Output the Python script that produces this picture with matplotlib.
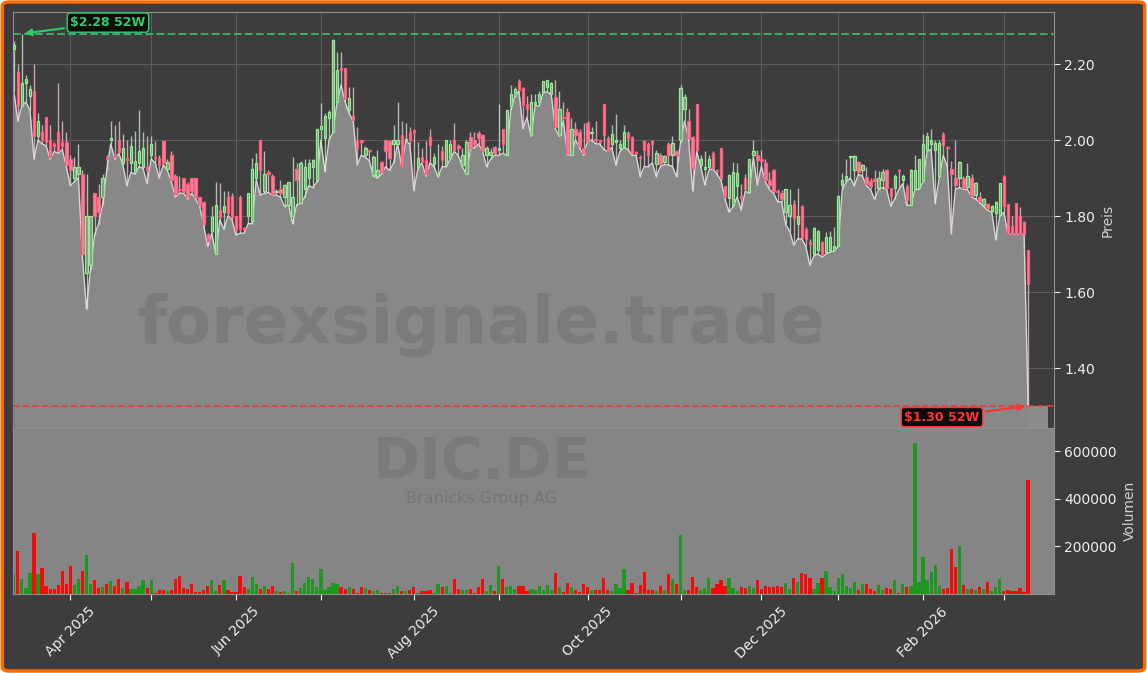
import numpy as np
import pandas as pd
import matplotlib
matplotlib.use('Agg')
import matplotlib.pyplot as plt
from matplotlib.patches import FancyBboxPatch

# trading days (Xetra holidays left out)
holidays = ['2025-04-18', '2025-04-21', '2025-05-01', '2025-12-24',
            '2025-12-25', '2025-12-26', '2025-12-31', '2026-01-01']
dates = pd.bdate_range('2025-03-12', '2026-03-10', freq='C', holidays=holidays)

opens = [
    2.24, 2.18, 2.09, 2.15, 2.115, 2.13, 2.01, 2.02, 2.06, 2.00,
    1.99, 2.02, 1.995, 1.995, 1.95, 1.90, 1.91, 1.91, 1.65, 1.67,
    1.86, 1.85, 1.85, 1.955, 2.00, 1.96, 2.00, 1.94, 1.95, 1.94,
    1.917, 1.94, 1.93, 1.93, 1.962, 1.955, 1.952, 1.998, 1.925, 1.962,
    1.905, 1.87, 1.90, 1.885, 1.90, 1.90, 1.85, 1.838, 1.752, 1.76,
    1.70, 1.815, 1.811, 1.85, 1.853, 1.80, 1.85, 1.768, 1.80, 1.786,
    1.90, 2.00, 1.865, 1.914, 1.905, 1.862, 1.87, 1.85, 1.83, 1.80,
    1.925, 1.835, 1.87, 1.90, 1.93, 1.895, 2.03, 2.006, 2.057, 2.022,
    2.10, 2.186, 2.19, 2.08, 2.063, 2.00, 1.998, 1.96, 1.972, 1.908,
    1.905, 1.943, 2.00, 1.998, 1.99, 1.99, 2.013, 2.00, 2.02, 2.025,
    1.93, 1.955, 1.948, 2.007, 1.938, 1.907, 1.97, 1.934, 1.952, 2.00,
    1.982, 1.934, 1.912, 2.007, 2.00, 2.018, 2.013, 1.96, 1.962, 1.983,
    1.975, 2.03, 1.962, 2.09, 2.115, 2.155, 2.136, 2.095, 2.013, 2.096,
    2.10, 2.127, 2.14, 2.122, 2.114, 2.013, 2.06, 2.073, 1.962, 2.03,
    2.022, 1.98, 2.046, 2.018, 2.002, 2.00, 2.096, 2.005, 1.99, 1.995,
    1.98, 1.982, 2.018, 2.007, 1.966, 1.953, 1.998, 1.99, 1.998, 1.936,
    1.962, 1.943, 1.99, 1.962, 1.972, 2.00, 2.081, 2.05, 2.007, 2.096,
    1.935, 1.925, 1.93, 1.965, 1.92, 1.978, 1.878, 1.847, 1.829, 1.88,
    1.85, 1.90, 1.864, 1.96, 1.962, 1.948, 1.94, 1.895, 1.92, 1.865,
    1.86, 1.81, 1.80, 1.831, 1.78, 1.826, 1.767, 1.732, 1.70, 1.71,
    1.732, 1.705, 1.71, 1.71, 1.722, 1.881, 1.894, 1.955, 1.921, 1.941,
    1.921, 1.903, 1.893, 1.898, 1.873, 1.895, 1.921, 1.873, 1.875, 1.92,
    1.894, 1.88, 1.829, 1.87, 1.873, 1.894, 1.973, 1.99, 1.973, 1.905,
    2.017, 1.98, 1.925, 1.90, 1.899, 1.90, 1.877, 1.901, 1.855, 1.85,
    1.829, 1.831, 1.814, 1.807, 1.802, 1.905, 1.831, 1.775, 1.835, 1.80,
    1.785, 1.71]

highs = [
    2.26, 2.20, 2.28, 2.17, 2.145, 2.20, 2.07, 2.04, 2.06, 2.04,
    1.995, 2.15, 2.05, 2.02, 1.96, 1.955, 1.99, 1.92, 1.91, 1.80,
    1.86, 1.885, 1.91, 1.96, 2.05, 2.04, 2.05, 2.015, 2.00, 2.01,
    2.024, 2.08, 2.02, 2.01, 2.01, 1.998, 1.96, 2.00, 1.95, 1.97,
    1.91, 1.905, 1.90, 1.89, 1.90, 1.90, 1.85, 1.84, 1.755, 1.826,
    1.89, 1.888, 1.865, 1.866, 1.86, 1.80, 1.855, 1.77, 1.86, 1.952,
    1.965, 2.00, 1.97, 1.92, 1.91, 1.87, 1.895, 1.885, 1.89, 1.955,
    1.94, 1.945, 1.95, 1.95, 1.95, 2.03, 2.097, 2.07, 2.08, 2.265,
    2.233, 2.233, 2.19, 2.14, 2.14, 2.035, 2.00, 1.985, 1.975, 1.96,
    1.974, 1.945, 2.00, 2.00, 2.04, 2.10, 2.05, 2.045, 2.035, 2.03,
    1.995, 1.98, 1.998, 2.03, 1.965, 1.99, 1.985, 2.00, 2.00, 2.046,
    1.99, 1.98, 2.00, 2.022, 2.02, 2.025, 2.015, 1.985, 1.98, 1.985,
    2.096, 2.03, 2.08, 2.145, 2.14, 2.16, 2.14, 2.115, 2.12, 2.12,
    2.13, 2.156, 2.158, 2.153, 2.157, 2.13, 2.10, 2.085, 2.057, 2.048,
    2.03, 2.046, 2.05, 2.035, 2.05, 2.00, 2.096, 2.01, 2.04, 2.068,
    2.00, 2.04, 2.025, 2.01, 1.97, 1.96, 2.00, 1.995, 2.00, 1.975,
    1.965, 1.96, 1.995, 2.01, 1.975, 2.145, 2.12, 2.083, 2.01, 2.096,
    1.96, 1.97, 1.96, 1.97, 1.925, 1.98, 1.88, 1.91, 1.943, 1.94,
    1.885, 1.91, 1.95, 2.00, 1.975, 1.975, 1.95, 1.915, 1.925, 1.87,
    1.868, 1.872, 1.87, 1.842, 1.873, 1.83, 1.77, 1.74, 1.77, 1.763,
    1.735, 1.758, 1.76, 1.772, 1.855, 1.914, 1.949, 1.958, 1.96, 1.945,
    1.936, 1.93, 1.90, 1.92, 1.918, 1.925, 1.925, 1.875, 1.91, 1.923,
    1.91, 1.885, 1.925, 1.96, 1.95, 2.017, 2.022, 2.03, 2.00, 2.00,
    2.02, 1.985, 1.945, 2.00, 1.945, 1.905, 1.94, 1.91, 1.89, 1.864,
    1.848, 1.835, 1.83, 1.84, 1.887, 1.908, 1.833, 1.80, 1.835, 1.823,
    1.787, 1.71]

lows = [
    2.13, 2.05, 2.09, 2.10, 2.08, 1.95, 2.00, 1.99, 1.985, 1.95,
    1.97, 1.965, 1.975, 1.93, 1.88, 1.89, 1.90, 1.69, 1.555, 1.66,
    1.75, 1.78, 1.83, 1.92, 1.99, 1.95, 1.965, 1.935, 1.88, 1.915,
    1.91, 1.93, 1.925, 1.886, 1.95, 1.94, 1.90, 1.935, 1.92, 1.89,
    1.85, 1.86, 1.86, 1.845, 1.86, 1.845, 1.825, 1.775, 1.72, 1.755,
    1.70, 1.79, 1.765, 1.80, 1.79, 1.75, 1.755, 1.755, 1.78, 1.78,
    1.895, 1.855, 1.86, 1.862, 1.855, 1.855, 1.85, 1.825, 1.83, 1.78,
    1.83, 1.833, 1.85, 1.88, 1.875, 1.89, 2.00, 1.917, 2.00, 2.02,
    2.10, 2.145, 2.10, 2.07, 2.05, 1.935, 1.96, 1.955, 1.945, 1.905,
    1.90, 1.91, 1.93, 1.92, 1.94, 1.99, 1.93, 1.998, 1.99, 1.867,
    1.925, 1.94, 1.905, 1.94, 1.93, 1.903, 1.93, 1.93, 1.95, 1.97,
    1.96, 1.93, 1.91, 1.975, 1.98, 1.99, 1.97, 1.93, 1.95, 1.96,
    1.96, 1.965, 1.96, 2.08, 2.115, 2.13, 2.03, 2.06, 2.01, 2.09,
    2.09, 2.125, 2.127, 2.12, 2.03, 2.01, 2.05, 1.962, 1.96, 2.00,
    1.98, 1.96, 1.998, 2.00, 1.99, 1.99, 1.975, 1.97, 1.98, 1.934,
    1.97, 1.98, 1.975, 1.96, 1.96, 1.904, 1.93, 1.93, 1.94, 1.904,
    1.93, 1.935, 1.935, 1.93, 1.904, 1.995, 2.05, 2.00, 1.866, 1.97,
    1.93, 1.882, 1.92, 1.925, 1.91, 1.895, 1.845, 1.81, 1.825, 1.85,
    1.816, 1.865, 1.86, 1.955, 1.882, 1.93, 1.89, 1.87, 1.86, 1.838,
    1.838, 1.778, 1.76, 1.723, 1.74, 1.74, 1.72, 1.67, 1.695, 1.70,
    1.692, 1.70, 1.705, 1.708, 1.72, 1.868, 1.89, 1.90, 1.879, 1.91,
    1.905, 1.88, 1.87, 1.844, 1.87, 1.875, 1.87, 1.826, 1.845, 1.87,
    1.885, 1.828, 1.828, 1.87, 1.87, 1.89, 1.97, 1.975, 1.833, 1.90,
    1.96, 1.93, 1.754, 1.87, 1.875, 1.87, 1.87, 1.85, 1.845, 1.835,
    1.825, 1.815, 1.81, 1.738, 1.80, 1.81, 1.752, 1.752, 1.752, 1.752,
    1.752, 1.30]

closes = [
    2.25, 2.09, 2.15, 2.16, 2.135, 2.01, 2.05, 2.00, 1.995, 1.955,
    1.985, 1.97, 1.985, 1.935, 1.92, 1.93, 1.93, 1.70, 1.80, 1.80,
    1.80, 1.81, 1.90, 1.95, 2.005, 1.955, 1.968, 1.98, 1.948, 1.985,
    1.945, 1.97, 1.978, 1.92, 1.99, 1.952, 1.935, 1.94, 1.943, 1.895,
    1.857, 1.868, 1.865, 1.85, 1.865, 1.85, 1.83, 1.78, 1.735, 1.797,
    1.83, 1.798, 1.826, 1.807, 1.796, 1.763, 1.765, 1.765, 1.86, 1.924,
    1.94, 1.92, 1.91, 1.912, 1.858, 1.865, 1.86, 1.882, 1.89, 1.85,
    1.895, 1.94, 1.93, 1.94, 1.948, 2.028, 2.036, 2.063, 2.073, 2.263,
    2.185, 2.185, 2.108, 2.11, 2.053, 1.98, 1.996, 1.98, 1.97, 1.955,
    1.92, 1.917, 1.97, 1.952, 2.00, 2.00, 1.93, 2.002, 2.00, 2.022,
    1.952, 1.943, 1.91, 1.988, 1.956, 1.908, 1.948, 2.00, 1.99, 1.975,
    1.98, 1.962, 1.996, 1.98, 1.99, 2.006, 1.972, 1.98, 1.968, 1.965,
    1.98, 1.99, 2.08, 2.12, 2.135, 2.133, 2.092, 2.082, 2.10, 2.10,
    2.122, 2.155, 2.157, 2.15, 2.035, 2.081, 2.058, 1.967, 2.03, 2.013,
    1.985, 1.965, 2.00, 2.02, 2.00, 1.996, 2.013, 1.972, 2.017, 2.00,
    1.99, 2.022, 2.006, 1.967, 1.965, 1.952, 1.974, 1.96, 1.99, 1.967,
    1.938, 1.958, 1.962, 1.991, 1.962, 2.136, 2.114, 2.006, 1.926, 1.975,
    1.95, 1.928, 1.95, 1.926, 1.918, 1.90, 1.85, 1.908, 1.917, 1.914,
    1.848, 1.87, 1.949, 1.97, 1.948, 1.946, 1.895, 1.882, 1.866, 1.863,
    1.845, 1.87, 1.83, 1.796, 1.80, 1.745, 1.74, 1.727, 1.769, 1.76,
    1.697, 1.745, 1.745, 1.721, 1.853, 1.896, 1.905, 1.956, 1.958, 1.916,
    1.934, 1.884, 1.88, 1.893, 1.899, 1.916, 1.873, 1.852, 1.906, 1.918,
    1.905, 1.842, 1.921, 1.92, 1.949, 1.99, 2.01, 2.00, 1.991, 1.991,
    1.988, 1.978, 1.91, 1.881, 1.941, 1.873, 1.905, 1.853, 1.887, 1.84,
    1.846, 1.822, 1.826, 1.838, 1.886, 1.826, 1.754, 1.754, 1.754, 1.754,
    1.754, 1.62]

# volume in thousand shares
volume_k = [
    83, 180, 65, 25, 90, 257, 83, 108, 35, 21,
    21, 39, 97, 42, 118, 39, 62, 97, 162, 42,
    58, 25, 28, 42, 53, 35, 62, 25, 51, 21,
    21, 35, 58, 25, 58, 3, 17, 17, 14, 17,
    62, 76, 25, 21, 42, 10, 10, 17, 35, 58,
    14, 37, 58, 17, 10, 7, 76, 28, 21, 71,
    42, 21, 35, 21, 35, 14, 7, 14, 3, 132,
    14, 25, 48, 71, 62, 28, 104, 18, 28, 48,
    42, 28, 21, 28, 21, 3, 28, 25, 18, 14,
    18, 3, 3, 5, 21, 35, 14, 14, 17, 30,
    6, 14, 14, 18, 5, 42, 30, 35, 5, 62,
    21, 17, 17, 21, 6, 28, 62, 14, 37, 14,
    118, 62, 28, 32, 21, 35, 35, 14, 21, 17,
    35, 17, 37, 18, 87, 28, 10, 46, 28, 17,
    10, 42, 28, 17, 17, 17, 69, 17, 14, 42,
    25, 107, 17, 46, 5, 37, 94, 17, 17, 14,
    32, 17, 83, 62, 44, 250, 17, 17, 73, 28,
    17, 25, 69, 25, 42, 58, 35, 69, 24, 14,
    28, 25, 32, 24, 60, 21, 35, 30, 28, 35,
    30, 46, 21, 67, 51, 88, 83, 67, 21, 46,
    67, 96, 28, 14, 69, 83, 35, 25, 49, 18,
    42, 42, 21, 14, 38, 18, 25, 21, 60, 5,
    42, 28, 35, 635, 51, 154, 60, 94, 122, 35,
    21, 25, 188, 113, 204, 38, 21, 21, 18, 28,
    21, 51, 14, 28, 65, 14, 17, 14, 14, 25,
    10, 479]

ticker = 'DIC.DE'
company = 'Branicks Group AG'

o = np.array(opens)
h = np.array(highs)
l = np.array(lows)
c = np.array(closes)
vol = np.array(volume_k) * 1000
assert len(o) == len(h) == len(l) == len(c) == len(vol) == len(dates)

x = np.arange(len(dates))
up = c >= o

BG = '#3d3d3d'
fig = plt.figure(figsize=(11.47, 6.73), dpi=100, facecolor='white')
frame = FancyBboxPatch((0.002, 0.003), 0.996, 0.994, transform=fig.transFigure,
                       boxstyle='round,pad=0,rounding_size=0.006',
                       facecolor=BG, edgecolor='#ff6a00', linewidth=2.5, zorder=-10)
fig.patches.append(frame)

ax = fig.add_axes([0.0113, 0.3640, 0.9076, 0.6181])
axv = fig.add_axes([0.0113, 0.1174, 0.9076, 0.2466], sharex=ax)

# --- price panel
ymin, ymax = 1.242, 2.337
ax.set_facecolor(BG)
ax.fill_between(x, l, ymin, color='#888888', linewidth=0, zorder=1)
# the shaded block after the last session
ax.fill_between([x[-1], x[-1] + 5], l[-1], ymin, color='#8c8c8c', linewidth=0, zorder=1)
ax.plot(x, l, color='#d6d6d6', lw=1, zorder=2)

wick_col = np.where(up, '#d4ecd4', '#f2cdd6')
ax.vlines(x, l, h, colors=wick_col, lw=1, alpha=0.75, zorder=3)
body = np.maximum(np.abs(c - o), 0.004)
ax.bar(x, body, bottom=np.minimum(o, c), width=0.6,
       color=np.where(up, '#909090', '#e88aa0'),
       edgecolor=np.where(up, '#90ee90', '#ff5c7c'), linewidth=0.9, zorder=4)

hi, lo = h.max(), l.min()
ihi, ilo = int(h.argmax()), int(l.argmin())
ax.axhline(hi, color='#3cb371', ls='--', lw=1.5, alpha=0.9, zorder=5)
ax.axhline(lo, color='#e04040', ls='--', lw=1.3, alpha=0.9, zorder=5)
ax.annotate('\\$%.2f 52W' % hi, xy=(ihi, hi), xytext=(62, 8), textcoords='offset points',
            ha='center', va='center', fontsize=9, fontweight='bold', color='#2ecc71',
            bbox=dict(boxstyle='round,pad=0.25', fc='#0c0c0c', ec='#2ecc71', lw=1),
            arrowprops=dict(arrowstyle='-|>', color='#2ecc71', lw=1.5, mutation_scale=10),
            zorder=6)
ax.annotate('\\$%.2f 52W' % lo, xy=(ilo, lo), xytext=(-62, -8), textcoords='offset points',
            ha='center', va='center', fontsize=9, fontweight='bold', color='#ff3333',
            bbox=dict(boxstyle='round,pad=0.25', fc='#0c0c0c', ec='#ff3333', lw=1),
            arrowprops=dict(arrowstyle='-|>', color='#ff3333', lw=1.5, mutation_scale=10),
            zorder=6)

ax.set_ylim(ymin, ymax)
ax.set_xlim(-0.2, 257.4)
ax.set_yticks([1.4, 1.6, 1.8, 2.0, 2.2])
ax.set_yticklabels(['%.2f' % t for t in [1.4, 1.6, 1.8, 2.0, 2.2]])
ax.yaxis.tick_right()
ax.yaxis.set_label_position('right')
ax.set_ylabel('Preis', color='#cfcfcf', fontsize=10)
ax.grid(True, color='#5c5c5c', lw=0.8)
ax.set_axisbelow(True)
ax.tick_params(axis='y', colors='#eeeeee', labelsize=10, length=4)
ax.tick_params(axis='x', labelbottom=False, length=0)
for s in ax.spines.values():
    s.set_color('#8f8f8f')

# --- volume panel
axv.set_facecolor('#858585')
axv.bar(x, vol, width=0.8, color=np.where(up, '#1f961f', '#f50a0a'), zorder=2)
axv.set_ylim(0, vol.max() * 1.1)
axv.set_yticks([200000, 400000, 600000])
axv.set_yticklabels(['200000', '400000', '600000'])
axv.yaxis.tick_right()
axv.yaxis.set_label_position('right')
axv.set_ylabel('Volumen', color='#cfcfcf', fontsize=10)
axv.tick_params(axis='y', colors='#eeeeee', labelsize=10, length=4)
for s in axv.spines.values():
    s.set_color('#8f8f8f')

months = dates.to_period('M')
first = [i for i in range(1, len(dates)) if months[i] != months[i - 1]]
labels = [dates[i].strftime('%b %Y') if dates[i].month % 2 == 0 else '' for i in first]
axv.set_xticks(first)
axv.set_xticklabels(labels, rotation=45, ha='center')
axv.tick_params(axis='x', colors='#eeeeee', labelsize=10, length=4)

# watermarks
fig.text(0.4202, 0.5171, 'forexsignale.trade', ha='center', va='center',
         fontsize=47.5, fontweight='bold', color='black', alpha=0.09)
fig.text(0.4202, 0.2880, ticker, ha='center', va='baseline',
         fontsize=41, fontweight='bold', color='black', alpha=0.08)
fig.text(0.4202, 0.2600, company, ha='center', va='center',
         fontsize=11.5, color='black', alpha=0.12)

fig.savefig('out.png', dpi=100)
